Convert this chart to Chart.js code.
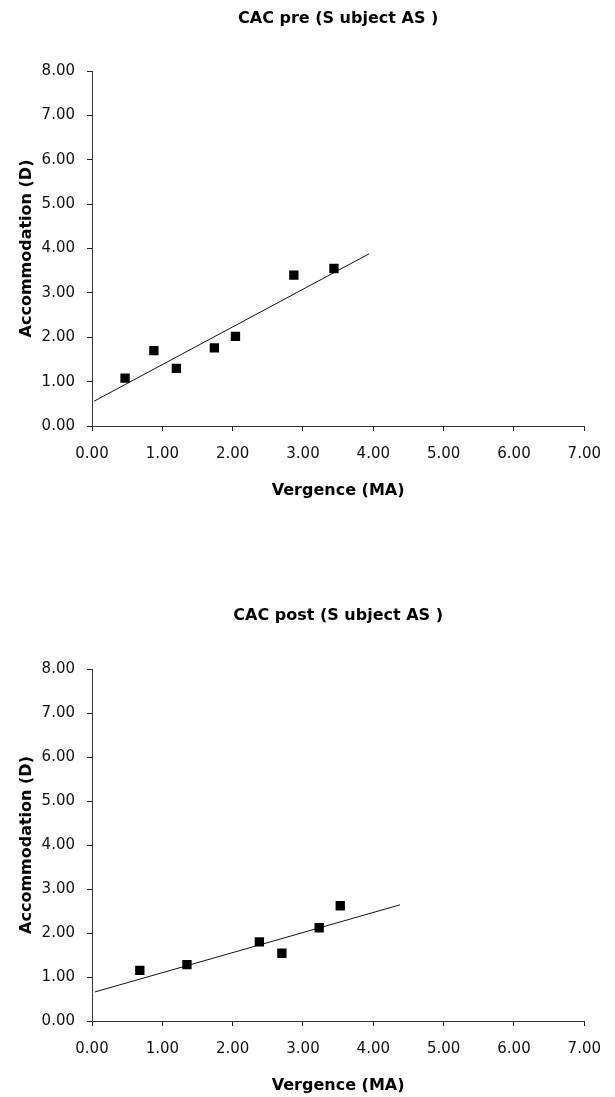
<!DOCTYPE html>
<html>
<head>
<meta charset="utf-8">
<title>CAC Subject AS</title>
<script src="https://cdn.jsdelivr.net/npm/chart.js@4.4.1/dist/chart.umd.min.js"></script>
<style>
    html, body { margin: 0; padding: 0; background: #fff; }
    .panel { position: absolute; left: 0; width: 615px; height: 500px; }
    #panelPre { top: 0; }
    #panelPost { top: 597px; }
</style>
</head>
<body>
<div class="panel" id="panelPre"><canvas id="chartPre" width="615" height="500"></canvas></div>
<div class="panel" id="panelPost"><canvas id="chartPost" width="615" height="500"></canvas></div>
<script>
// measured points, pre session
const preVergence = [0.47, 0.88, 1.20, 1.74, 2.04, 2.87, 3.44];
const preAccommodation = [1.08, 1.70, 1.30, 1.76, 2.02, 3.40, 3.55];
// fitted line ends, pre session
const preFitVergence = [0.03, 3.94];
const preFitAccommodation = [0.56, 3.88];

// measured points, post session
const postVergence = [0.68, 1.35, 2.38, 2.70, 3.23, 3.53];
const postAccommodation = [1.15, 1.28, 1.80, 1.54, 2.12, 2.62];
// fitted line ends, post session
const postFitVergence = [0.04, 4.38];
const postFitAccommodation = [0.66, 2.64];

const xTicks = [0, 1, 2, 3, 4, 5, 6, 7];
const yTicks = [0, 1, 2, 3, 4, 5, 6, 7, 8];

const FONT = "'DejaVu Sans', sans-serif";

function toPoints(xs, ys) {
    return xs.map((x, i) => ({ x: x, y: ys[i] }));
}

function makeChart(canvasId, titleText, xs, ys, fitX, fitY, box) {
    const ctx = document.getElementById(canvasId);
    return new Chart(ctx, {
        type: 'scatter',
        data: {
            datasets: [{
                label: 'data',
                data: toPoints(xs, ys),
                pointStyle: 'rect',
                pointRadius: 6.6,
                backgroundColor: '#000',
                borderColor: '#000',
                borderWidth: 0
            }, {
                label: 'fit',
                type: 'line',
                data: toPoints(fitX, fitY),
                borderColor: '#111',
                borderWidth: 1,
                pointRadius: 0,
                fill: false
            }]
        },
        options: {
            responsive: false,
            animation: false,
            events: [],
            layout: { padding: { left: 0, right: box.right, top: 0, bottom: 0 } },
            plugins: {
                legend: { display: false },
                tooltip: { enabled: false },
                title: {
                    display: true,
                    text: titleText,
                    fullSize: false,
                    color: '#000',
                    font: { family: FONT, size: 16, weight: 'bold' },
                    padding: { top: 9, bottom: box.top - 9 - 19.2 }
                }
            },
            scales: {
                x: {
                    type: 'linear',
                    min: 0,
                    max: 7,
                    afterFit: scale => { scale.height = 500 - box.bottom; },
                    afterBuildTicks: scale => { scale.ticks = xTicks.map(v => ({ value: v })); },
                    border: { display: true, color: '#333', width: 1 },
                    grid: { display: true, drawOnChartArea: false, drawTicks: true, tickLength: 5, color: '#222' },
                    ticks: {
                        padding: 14,
                        color: '#111',
                        font: { family: FONT, size: 15 },
                        maxRotation: 0,
                        callback: v => v.toFixed(2)
                    },
                    title: {
                        display: true,
                        text: 'Vergence (MA)',
                        color: '#000',
                        font: { family: FONT, size: 16, weight: 'bold' },
                        padding: { top: 0, bottom: box.xTitlePad }
                    }
                },
                y: {
                    type: 'linear',
                    min: 0,
                    max: 8,
                    afterFit: scale => { scale.width = 92; },
                    afterBuildTicks: scale => { scale.ticks = yTicks.map(v => ({ value: v })); },
                    border: { display: true, color: '#333', width: 1 },
                    grid: { display: true, drawOnChartArea: false, drawTicks: true, tickLength: 5, color: '#222' },
                    ticks: {
                        padding: 12,
                        color: '#111',
                        font: { family: FONT, size: 15 },
                        callback: v => v.toFixed(2)
                    },
                    title: {
                        display: true,
                        text: 'Accommodation (D)',
                        color: '#000',
                        font: { family: FONT, size: 16, weight: 'bold' },
                        padding: { top: 17, bottom: 0 }
                    }
                }
            }
        }
    });
}

makeChart('chartPre', 'CAC pre (S ubject AS )',
    preVergence, preAccommodation, preFitVergence, preFitAccommodation,
    { top: 71, bottom: 426, right: 22, xTitlePad: 0 });

makeChart('chartPost', 'CAC post (S ubject AS )',
    postVergence, postAccommodation, postFitVergence, postFitAccommodation,
    { top: 72, bottom: 424, right: 19, xTitlePad: 2 });
</script>
</body>
</html>
